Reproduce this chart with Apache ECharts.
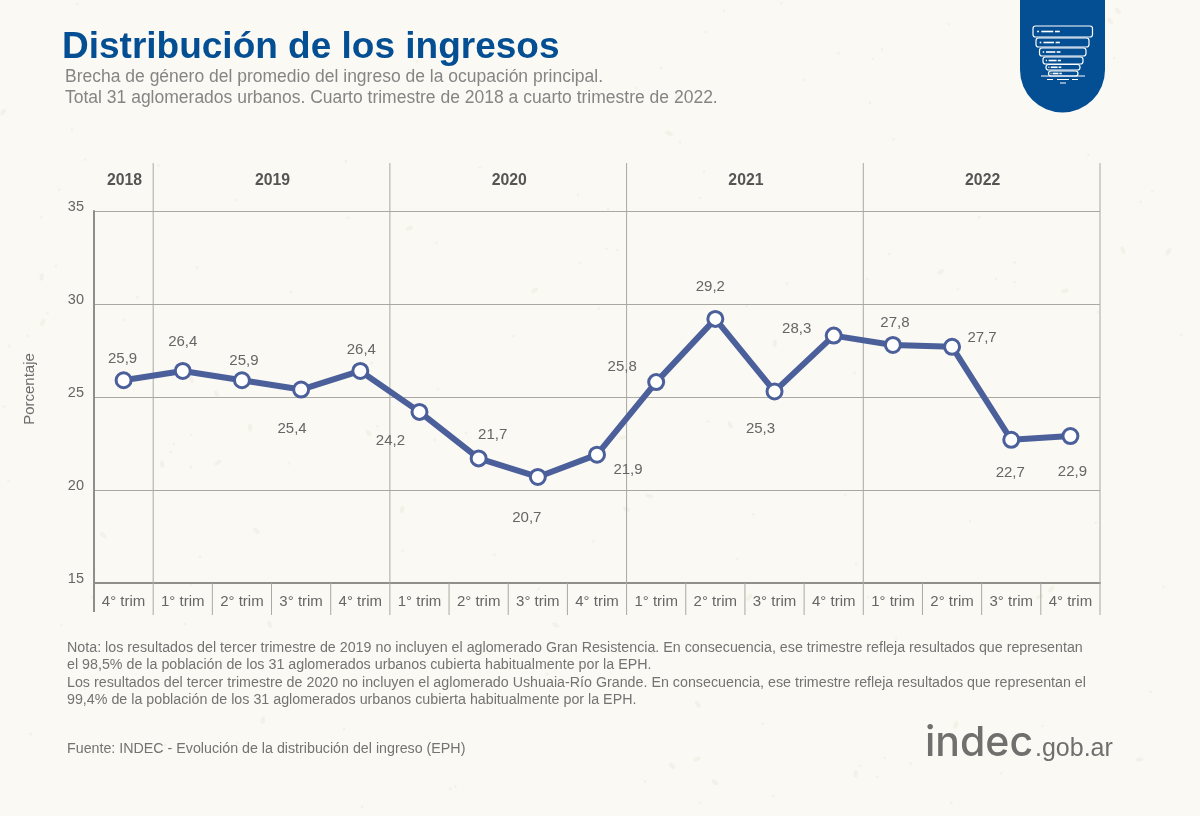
<!DOCTYPE html>
<html lang="es">

<head>
    <meta charset="UTF-8">
    <title>Distribución de los ingresos</title>
    <script src="https://cdn.jsdelivr.net/npm/echarts@6/dist/echarts.min.js"></script>
    <style>
        html, body { margin: 0; padding: 0; background: #fbf9f3; }
        #chart { width: 1200px; height: 816px; }
    </style>
</head>

<body>
    <div id="chart"></div>
    <script>
        // datos
        var trimestres = ['4° trim', '1° trim', '2° trim', '3° trim', '4° trim', '1° trim', '2° trim', '3° trim', '4° trim',
            '1° trim', '2° trim', '3° trim', '4° trim', '1° trim', '2° trim', '3° trim', '4° trim'];
        var brecha = [25.9, 26.4, 25.9, 25.4, 26.4, 24.2, 21.7, 20.7, 21.9, 25.8, 29.2, 25.3, 28.3, 27.8, 27.7, 22.7, 22.9];
        var anios = ['2018', '2019', '2020', '2021', '2022'];
        var trimestresPorAnio = [1, 4, 4, 4, 4];
        var yTicks = [15, 20, 25, 30, 35];

        // donde cae cada etiqueta respecto de su punto
        var labelOffsets = [[-1, -21], [0, -29], [2, -19], [-9, 39], [1, -21], [-29, 29], [14, -24], [-11, 41], [31, 15],
            [-34, -15], [-5, -32], [-14, 37], [-37, -7], [2, -22], [30, -9], [-1, 33], [2, 36]];

        var GRID_LEFT = 94, GRID_RIGHT = 100, GRID_TOP = 211, GRID_BOTTOM = 233;
        var HEADER_TOP = 163, TICK_BOTTOM = 615;
        var LINE_COLOR = '#4b5f9b', RULE_COLOR = '#a9a8a3', AXIS_COLOR = '#8f8e89', TEXT_COLOR = '#666666';
        var FONT = '"Liberation Sans", Arial, sans-serif';

        // limites de cada anio en unidades de trimestre
        var limites = [0];
        trimestresPorAnio.forEach(function (n) { limites.push(limites[limites.length - 1] + n); });

        var chart = echarts.init(document.getElementById('chart'), null, { renderer: 'canvas' });

        // manchitas del papel de fondo
        function speckles() {
            var out = [], seed = 12345;
            function next() { seed = (seed * 16807) % 2147483647; return seed / 2147483647; }
            for (var i = 0; i < 170; i++) {
                var big = next() > 0.8;
                out.push({
                    type: 'ellipse', silent: true, z: -10,
                    x: next() * 1200, y: next() * 816, rotation: next() * 3,
                    shape: { cx: 0, cy: 0, rx: big ? 4 : 1.6, ry: big ? 2.2 : 1.2 },
                    style: { fill: '#f4f1e8' }
                });
            }
            return out;
        }

        function textEl(text, x, y, font, color) {
            return { type: 'text', x: x, y: y, silent: true, style: { text: text, font: font, fill: color, verticalAlign: 'middle' } };
        }

        // escudo con el embudo
        function escudo() {
            var kids = [
                { type: 'rect', shape: { x: 1020, y: 0, width: 85, height: 70 }, style: { fill: '#044f93' } },
                { type: 'circle', shape: { cx: 1062.5, cy: 70, r: 42.5 }, style: { fill: '#044f93' } }
            ];
            var capas = [[1033, 1092.5, 26, 11], [1036, 1089, 38, 9], [1039.5, 1086, 48, 8], [1043, 1083, 57, 7], [1046, 1080, 64.5, 5.5], [1048.5, 1078, 71, 5]];
            capas.forEach(function (c) {
                var w = c[1] - c[0], mid = c[2] + c[3] / 2;
                kids.push({
                    type: 'rect',
                    shape: { x: c[0], y: c[2], width: w, height: c[3], r: 2.5 },
                    style: { fill: 'transparent', stroke: '#ffffff', lineWidth: 1.2 }
                });
                [[0.07, 0.03], [0.14, 0.2], [0.37, 0.08]].forEach(function (d) {
                    kids.push({
                        type: 'rect',
                        shape: { x: c[0] + w * d[0], y: mid - 0.8, width: w * d[1], height: 1.6 },
                        style: { fill: '#ffffff' }
                    });
                });
            });
            [[1041, 1085, 75.6, 1], [1047, 1053, 79, 1], [1057, 1069, 79, 1], [1072, 1078, 79, 1], [1060, 1066, 82.5, 1]].forEach(function (b) {
                kids.push({ type: 'rect', shape: { x: b[0], y: b[2], width: b[1] - b[0], height: b[3] }, style: { fill: '#ffffff' } });
            });
            return { type: 'group', silent: true, children: kids };
        }

        var notas = [
            'Nota: los resultados del tercer trimestre de 2019 no incluyen el aglomerado Gran Resistencia. En consecuencia, ese trimestre refleja resultados que representan',
            'el 98,5% de la población de los 31 aglomerados urbanos cubierta habitualmente por la EPH.',
            'Los resultados del tercer trimestre de 2020 no incluyen el aglomerado Ushuaia-Río Grande. En consecuencia, ese trimestre refleja resultados que representan el',
            '99,4% de la población de los 31 aglomerados urbanos cubierta habitualmente por la EPH.'
        ];

        var graficos = speckles().concat([
            textEl('Distribución de los ingresos', 62, 48, 'bold 37px ' + FONT, '#044f93'),
            textEl('Brecha de género del promedio del ingreso de la ocupación principal.', 65, 77.5, '17.5px ' + FONT, '#858585'),
            textEl('Total 31 aglomerados urbanos. Cuarto trimestre de 2018 a cuarto trimestre de 2022.', 65, 98.5, '17.5px ' + FONT, '#858585'),
            textEl('Fuente: INDEC - Evolución de la distribución del ingreso (EPH)', 67, 749, '14.25px ' + FONT, '#737373'),
            textEl('indec', 925, 744, '500 41px Inter, ' + FONT, '#6f6f6e'),
            textEl('.gob.ar', 1035, 749, '25px ' + FONT, '#6f6f6e'),
            escudo()
        ]);
        notas.forEach(function (t, i) {
            graficos.push(textEl(t, 67, 648 + i * 17.4, '14.27px ' + FONT, '#737373'));
        });

        var option = {
            backgroundColor: '#fbf9f3',
            animation: false,
            textStyle: { fontFamily: FONT },
            graphic: graficos,
            grid: [
                { left: GRID_LEFT, right: GRID_RIGHT, top: GRID_TOP, bottom: GRID_BOTTOM },
                { left: GRID_LEFT, right: GRID_RIGHT, top: HEADER_TOP, height: GRID_TOP - HEADER_TOP }
            ],
            xAxis: [
                {
                    type: 'category', data: trimestres, gridIndex: 0, boundaryGap: true,
                    axisLine: { lineStyle: { color: AXIS_COLOR, width: 2 } },
                    axisTick: { show: false },
                    axisLabel: { interval: 0, color: TEXT_COLOR, fontSize: 15, margin: 11 }
                },
                { type: 'value', gridIndex: 1, min: 0, max: trimestres.length, show: false }
            ],
            yAxis: [
                {
                    type: 'value', gridIndex: 0, min: yTicks[0], max: yTicks[yTicks.length - 1], interval: 5,
                    name: 'Porcentaje', nameLocation: 'middle', nameRotate: 90, nameGap: 57,
                    nameTextStyle: { color: '#6b6b6b', fontSize: 15, padding: [0, 0, 0, 16] },
                    axisLine: { show: true, lineStyle: { color: AXIS_COLOR, width: 2 } },
                    axisTick: { show: false },
                    axisLabel: { color: TEXT_COLOR, fontSize: 14.5, margin: 10, verticalAlign: 'bottom', lineHeight: 8 },
                    splitLine: { lineStyle: { color: RULE_COLOR, width: 1 } }
                },
                { type: 'value', gridIndex: 1, min: 0, max: 1, show: false }
            ],
            series: [
                {
                    // lineas de trimestre y de anio, y los nombres de los anios
                    type: 'custom', xAxisIndex: 1, yAxisIndex: 1, clip: false, silent: true, z: 1,
                    data: anios.map(function (a, i) { return [limites[i], limites[i + 1], a]; }),
                    renderItem: function (params, api) {
                        var ini = api.coord([api.value(0), 0])[0], fin = api.coord([api.value(1), 0])[0];
                        var kids = [{
                            type: 'text',
                            style: {
                                text: anios[params.dataIndex], x: (ini + fin) / 2 + 1, y: (HEADER_TOP + GRID_TOP) / 2 - 6,
                                align: 'center', verticalAlign: 'middle',
                                font: 'bold 15.8px ' + FONT, fill: '#555555'
                            }
                        }];
                        kids.push({
                            type: 'line',
                            shape: { x1: fin, y1: HEADER_TOP, x2: fin, y2: TICK_BOTTOM },
                            style: { stroke: RULE_COLOR, lineWidth: 1 }
                        });
                        if (params.dataIndex === 0) {
                            kids.push({
                                type: 'line',
                                shape: { x1: ini, y1: GRID_TOP, x2: ini, y2: TICK_BOTTOM - 3 },
                                style: { stroke: AXIS_COLOR, lineWidth: 2 }
                            });
                        }
                        for (var t = api.value(0) + 1; t < api.value(1); t++) {
                            var x = api.coord([t, 0])[0];
                            kids.push({
                                type: 'line',
                                shape: { x1: x, y1: 816 - GRID_BOTTOM, x2: x, y2: TICK_BOTTOM },
                                style: { stroke: RULE_COLOR, lineWidth: 1 }
                            });
                        }
                        return { type: 'group', children: kids };
                    },
                    encode: { x: [0, 1] }
                },
                {
                    type: 'line', xAxisIndex: 0, yAxisIndex: 0, z: 5,
                    data: brecha.map(function (v, i) {
                        return { value: v, label: { offset: labelOffsets[i] } };
                    }),
                    symbol: 'circle', symbolSize: 15,
                    lineStyle: { color: LINE_COLOR, width: 6 },
                    itemStyle: { color: '#ffffff', borderColor: LINE_COLOR, borderWidth: 3 },
                    label: {
                        show: true, position: 'inside', color: TEXT_COLOR, fontSize: 15,
                        formatter: function (p) { return p.value.toFixed(1).replace('.', ','); }
                    }
                }
            ]
        };

        chart.setOption(option);
    </script>
</body>

</html>
